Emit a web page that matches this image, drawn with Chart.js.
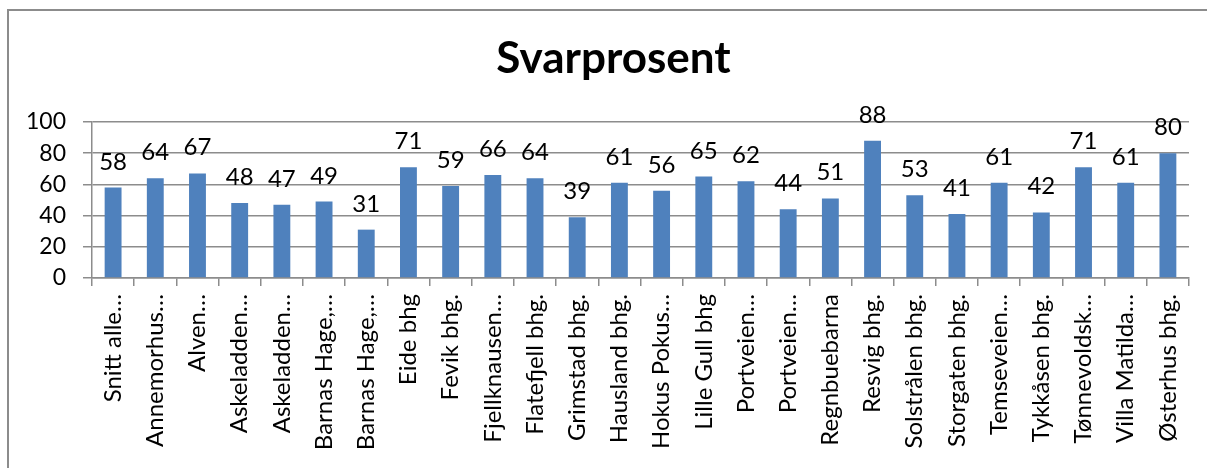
<!DOCTYPE html>
<html>
<head>
<meta charset="utf-8">
<script src="https://cdn.jsdelivr.net/npm/chart.js@4"></script>
<style>
    html, body { margin: 0; padding: 0; background: #fff; }
    #wrap { position: relative; width: 1207px; height: 468px; overflow: hidden; }
    #frame { position: absolute; left: 7px; top: 9px; width: 1230px; height: 500px; border: 2px solid #8c8c8c; pointer-events: none; }
</style>
</head>
<body>
<div id="wrap">
    <canvas id="Svarprosent" width="1207" height="468"></canvas>
    <div id="frame"></div>
</div>
<script>
// Svarprosent per barnehage
const chartTitle = 'Svarprosent';
const categories = ['Snitt alle…', 'Annemorhus…', 'Alven…', 'Askeladden…', 'Askeladden…', 'Barnas Hage,…',
    'Barnas Hage,…', 'Eide bhg', 'Fevik bhg.', 'Fjellknausen…', 'Flatefjell bhg.', 'Grimstad bhg.',
    'Hausland bhg.', 'Hokus Pokus…', 'Lille Gull bhg', 'Portveien…', 'Portveien…', 'Regnbuebarna',
    'Resvig bhg.', 'Solstrålen bhg.', 'Storgaten bhg.', 'Temseveien…', 'Tykkåsen bhg.', 'Tønnevoldsk…',
    'Villa Matilda…', 'Østerhus bhg.'];
const values = [58, 64, 67, 48, 47, 49, 31, 71, 59, 66, 64, 39, 61, 56, 65, 62, 44, 51, 88, 53, 41, 61, 42, 71, 61, 80];
const yTicks = [0, 20, 40, 60, 80, 100];

const font = 'Lato';

// draw the value above each bar, and the title (centred like the original, a bit right of the canvas middle)
const valueLabels = {
    id: 'valueLabels',
    afterDatasetsDraw(chart) {
        const ctx = chart.ctx;
        const meta = chart.getDatasetMeta(0);
        ctx.save();
        ctx.font = '24px ' + font;
        ctx.fillStyle = '#000';
        ctx.textAlign = 'center';
        ctx.textBaseline = 'alphabetic';
        meta.data.forEach((bar, i) => {
            ctx.fillText(values[i], bar.x, bar.y - 18);
        });
        ctx.font = 'bold 44px ' + font;
        ctx.textBaseline = 'middle';
        ctx.fillText(chartTitle, (chart.chartArea.left + chart.chartArea.right) / 2 - 27, 59);
        ctx.restore();
    }
};

new Chart(document.getElementById('Svarprosent'), {
    type: 'bar',
    data: {
        labels: categories,
        datasets: [{
            label: chartTitle,
            data: values,
            backgroundColor: '#4f81bd',
            barPercentage: 0.4,
            categoryPercentage: 1
        }]
    },
    options: {
        responsive: false,
        animation: false,
        layout: { padding: { left: 0, right: 18, top: 122, bottom: 0 } },
        plugins: {
            legend: { display: false },
            tooltip: { enabled: false },
            title: { display: false }
        },
        scales: {
            x: {
                grid: { drawOnChartArea: false, color: '#8c8c8c', lineWidth: 1.5, tickLength: 8 },
                border: { color: '#8c8c8c', width: 1.5 },
                ticks: {
                    autoSkip: false, maxRotation: 90, minRotation: 90,
                    color: '#000', padding: 8,
                    font: { family: font, size: 24 }
                },
                afterFit(scale) { scale.height = 190; }
            },
            y: {
                min: 0, max: 100,
                afterBuildTicks(scale) { scale.ticks = yTicks.map(v => ({ value: v })); },
                grid: { color: '#8c8c8c', lineWidth: 1.5, tickLength: 9 },
                border: { color: '#8c8c8c', width: 1.5 },
                ticks: {
                    color: '#000', padding: 17,
                    font: { family: font, size: 23 }
                },
                afterFit(scale) { scale.width = 92; }
            }
        }
    },
    plugins: [valueLabels]
});
</script>
</body>
</html>
